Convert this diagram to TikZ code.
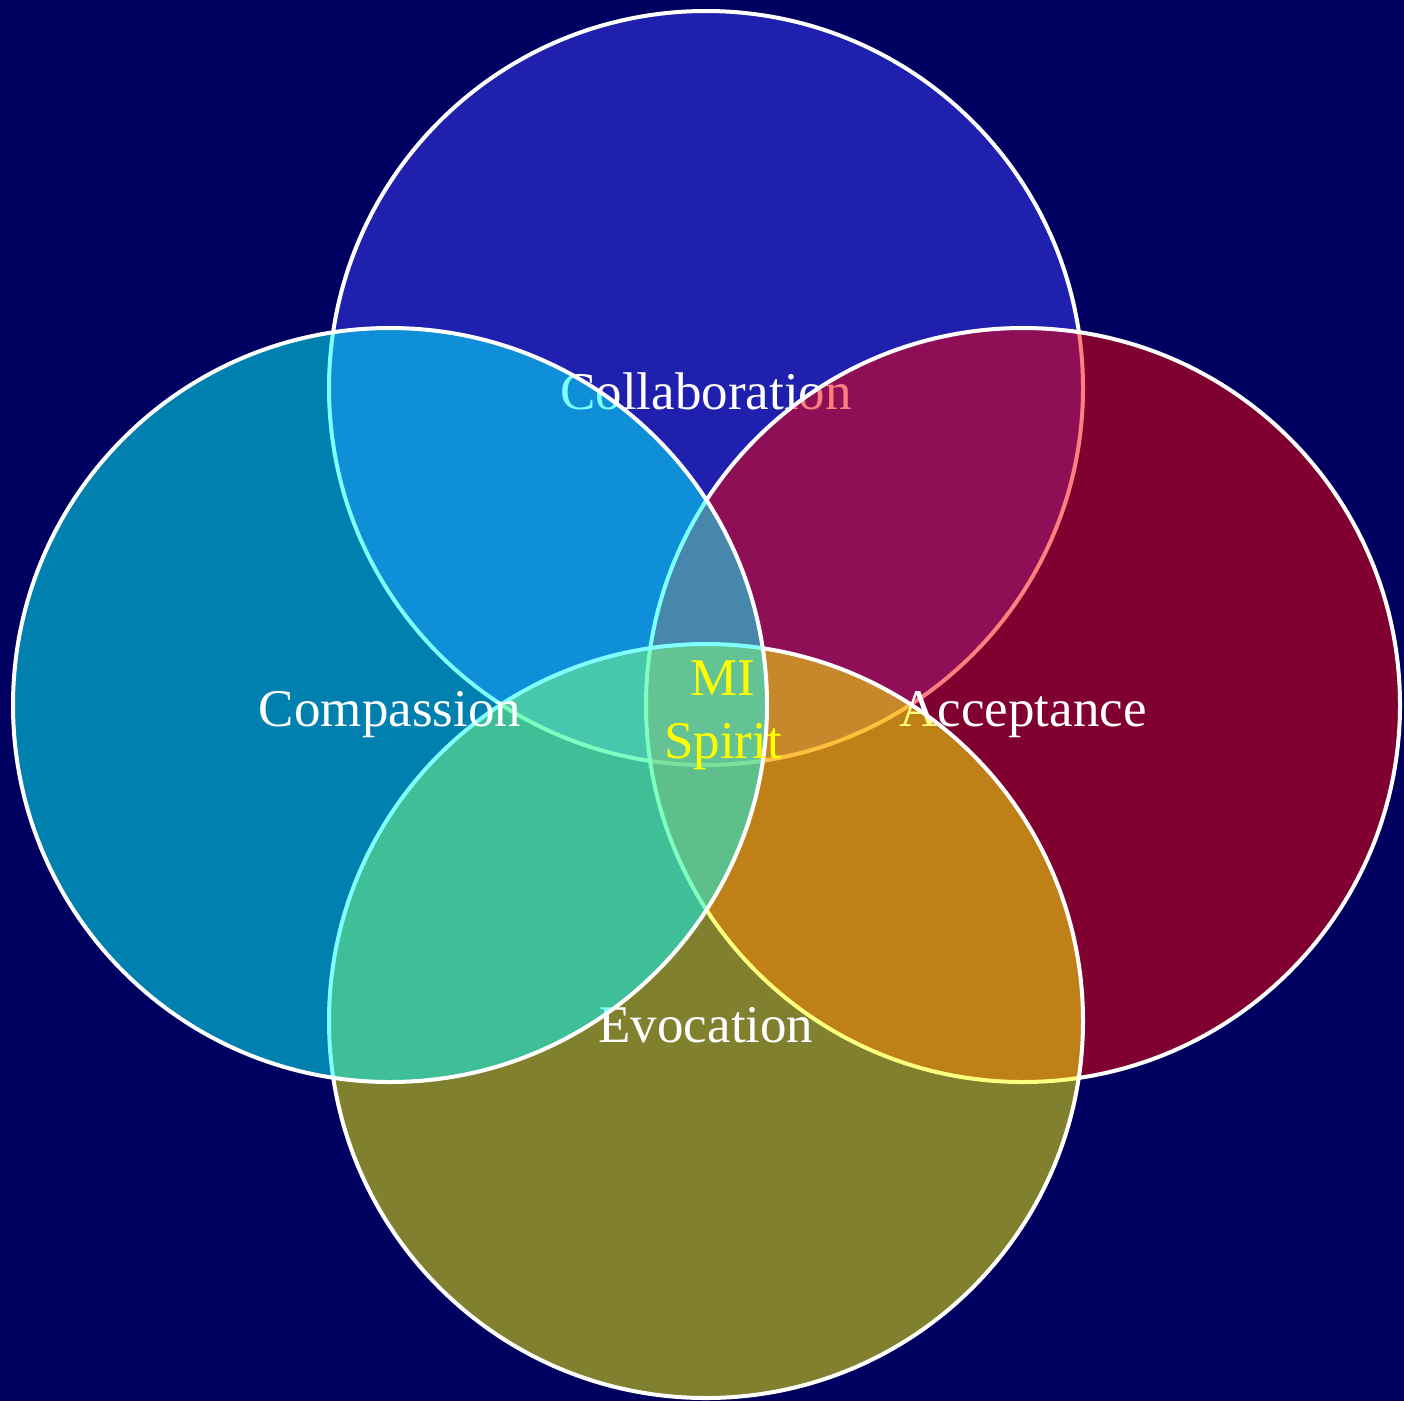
\documentclass[tikz,border=0pt]{standalone}
\usepackage{fontspec}
\setmainfont{Liberation Serif}
\usetikzlibrary{positioning}

\definecolor{navybg}{RGB}{0,0,96}
\definecolor{collabblue}{RGB}{64,64,255}
\definecolor{acceptred}{RGB}{255,0,0}
\definecolor{evocyellow}{RGB}{255,255,0}
\definecolor{compascyan}{RGB}{0,255,255}

\begin{document}
\begin{tikzpicture}[x=1pt, y=-1pt,
        part/.style={circle, draw=white, line width=4pt, minimum size=754pt,
            inner sep=0pt, outer sep=0pt, fill opacity=0.5, text opacity=1,
            text=white, text height=42pt, text depth=0pt,
            font=\fontsize{53}{63}\selectfont},
        core/.style={align=center, text=evocyellow, inner sep=0pt,
            font=\fontsize{53}{63}\selectfont}
    ]
            \fill[navybg] (0, 0) rectangle (1404, 1401);
            \node[part, fill=collabblue] (collab) at (706, 388) {Collaboration};
            \node[part, fill=acceptred] (accept) at (1023, 705) {Acceptance};
            \node[part, fill=evocyellow] (evoc) at (706, 1021) {Evocation};
            \node[part, fill=compascyan] (compas) at (390, 705) {Compassion};
            \node[core] (spirit) at (723, 715) {MI\\Spirit};
        \end{tikzpicture}
\end{document}
